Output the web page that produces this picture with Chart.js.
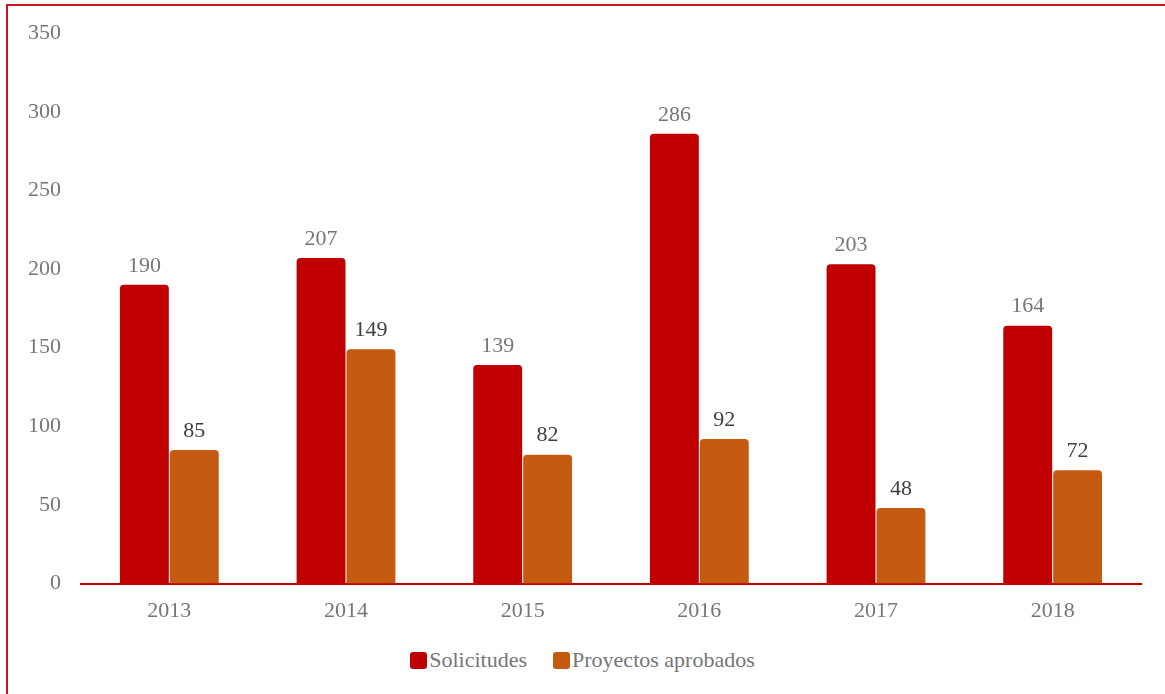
<!DOCTYPE html>
<html>
<head>
<meta charset="utf-8">
<script src="https://cdn.jsdelivr.net/npm/chart.js@4/dist/chart.umd.min.js"></script>
<style>
    body { margin: 0; background: #fff; }
    #wrap { position: relative; width: 1165px; height: 694px; overflow: hidden; }
    #frame {
        position: absolute; left: 6px; top: 4px; width: 1200px; height: 720px;
        border-left: 2px solid #d0141a; border-top: 2px solid #d0141a;
    }
    #chartBox { position: absolute; left: 0; top: 0; width: 1165px; height: 640px; }
    #legend {
        position: absolute; left: 0; top: 647px; width: 1165px;
        display: flex; justify-content: center; gap: 26px;
        font-family: "Liberation Serif", serif; font-size: 22px; color: #767676;
    }
    #legend span.item { display: flex; align-items: center; }
    #legend span.box { width: 17px; height: 17px; border-radius: 3px; margin-right: 2px; }
</style>
</head>
<body>
<div id="wrap">
    <div id="frame"></div>
    <div id="chartBox"><canvas id="barChart"></canvas></div>
    <div id="legend"></div>
</div>
<script>
// Données
const years = ['2013', '2014', '2015', '2016', '2017', '2018'];
const solicitudes = [190, 207, 139, 286, 203, 164];
const proyectosAprobados = [85, 149, 82, 92, 48, 72];
const yTicks = [0, 50, 100, 150, 200, 250, 300, 350];

const seriesNames = ['Solicitudes', 'Proyectos aprobados'];
const seriesColors = ['#c00000', '#c55a11'];
const labelColors = ['#767676', '#404040'];

// Étiquettes de valeurs au-dessus des barres
const valueLabels = {
    id: 'valueLabels',
    afterDatasetsDraw(chart) {
        const ctx = chart.ctx;
        ctx.save();
        ctx.font = '22px "Liberation Serif"';
        ctx.textAlign = 'center';
        ctx.textBaseline = 'bottom';
        chart.data.datasets.forEach((ds, i) => {
            const meta = chart.getDatasetMeta(i);
            ctx.fillStyle = labelColors[i];
            meta.data.forEach((bar, j) => {
                ctx.fillText(ds.data[j], bar.x, bar.y - 8);
            });
        });
        ctx.restore();
    }
};

new Chart(document.getElementById('barChart').getContext('2d'), {
    type: 'bar',
    data: {
        labels: years,
        datasets: [
            { label: seriesNames[0], data: solicitudes, backgroundColor: seriesColors[0] },
            { label: seriesNames[1], data: proyectosAprobados, backgroundColor: seriesColors[1] }
        ]
    },
    options: {
        responsive: true,
        maintainAspectRatio: false,
        animation: false,
        datasets: {
            bar: {
                categoryPercentage: 0.565,
                barPercentage: 0.98,
                borderRadius: { topLeft: 4, topRight: 4 },
                borderSkipped: 'start'
            }
        },
        layout: { padding: { left: 8, right: 24, top: 22, bottom: 10 } },
        plugins: {
            legend: { display: false },
            tooltip: { enabled: false }
        },
        scales: {
            x: {
                grid: { display: false },
                border: { display: true, color: '#c00000', width: 2 },
                ticks: { color: '#767676', font: { family: 'Liberation Serif', size: 22 }, padding: 6 }
            },
            y: {
                min: 0,
                max: 350,
                afterBuildTicks: axis => { axis.ticks = yTicks.map(v => ({ value: v })); },
                grid: { display: false, drawTicks: false },
                border: { display: false },
                ticks: { color: '#767676', font: { family: 'Liberation Serif', size: 22 }, padding: 20 }
            }
        }
    },
    plugins: [valueLabels]
});

// Légende HTML
const legendEl = document.getElementById('legend');
seriesNames.forEach((name, i) => {
    const item = document.createElement('span');
    item.className = 'item';
    const box = document.createElement('span');
    box.className = 'box';
    box.style.background = seriesColors[i];
    item.appendChild(box);
    item.appendChild(document.createTextNode(name));
    legendEl.appendChild(item);
});
</script>
</body>
</html>
